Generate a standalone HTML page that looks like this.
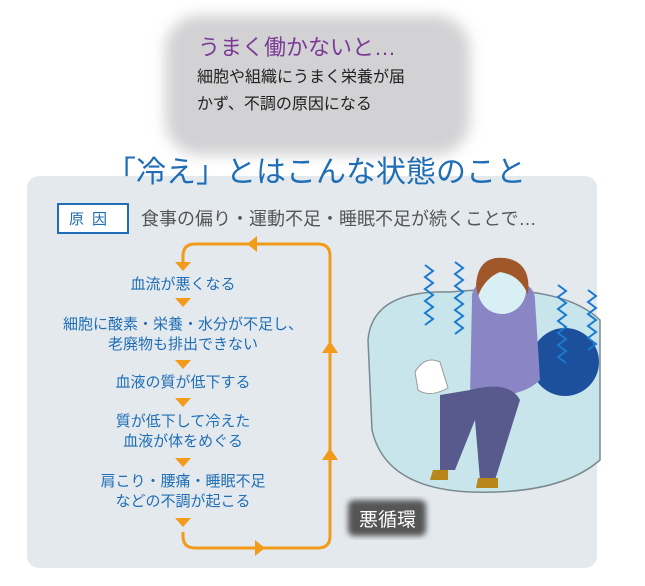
<!DOCTYPE html>
<html><head><meta charset="utf-8"><style>
body{margin:0;width:645px;height:586px;background:#fff;position:relative;overflow:hidden;font-family:"Liberation Sans","Noto Sans CJK JP",sans-serif}
.a{position:absolute;white-space:nowrap}
.t{color:#1f6eb5;font-size:15px;text-align:center;width:260px;left:53px;line-height:20px}
</style></head><body>
<svg class="a" style="left:0;top:0" width="645" height="586">
<defs><filter id="b"><feGaussianBlur stdDeviation="7"/></filter><filter id="b2"><feGaussianBlur stdDeviation="3"/></filter></defs>
<rect x="165" y="15" width="305" height="140" rx="35" fill="#d2d2d4" filter="url(#b)"/>
<rect x="27" y="176" width="570" height="392" rx="12" fill="#e4e9ee"/>
<rect x="58" y="204" width="70" height="29" fill="#fff" stroke="#1f6eb5" stroke-width="2"/>
<g fill="none" stroke="#f29a1a" stroke-width="3">
<path d="M183 262 V256 Q183 244 195 244 H318 Q330 244 330 256 V536 Q330 548 318 548 H195 Q183 548 183 536 V532"/>
</g>
<g fill="#f29a1a">
<path d="M175 262h16l-8 9z"/><path d="M175 298h16l-8 9z"/><path d="M175 360h16l-8 9z"/><path d="M175 398h16l-8 9z"/><path d="M175 458h16l-8 9z"/><path d="M175 518h16l-8 9z"/>
<path d="M247 244l10-8v16z"/><path d="M265 548l-10-8v16z"/>
<path d="M322 353l8-12 8 12z"/><path d="M322 460l8-12 8 12z"/>
</g>
<rect x="348" y="500" width="78" height="36" rx="6" fill="#555" filter="url(#b2)"/>
<path d="M368 340 Q372 290 450 292 Q560 282 600 320 L600 460 Q560 495 470 492 Q385 488 372 430 Z" fill="#c7e5ea" stroke="#7a8a90" stroke-width="1.5"/>
<circle cx="565" cy="362" r="34" fill="#1c4f9c"/>
<path d="M472 300 Q470 280 500 278 Q535 280 535 300 L540 380 Q520 400 470 395 Z" fill="#8a86c6"/>
<path d="M440 395 L470 390 Q510 380 520 400 L495 480 L480 480 L475 420 L455 470 L440 470 Z" fill="#585a8e"/>
<path d="M433 470 l15 0 l0 10 l-18 0 z M478 478 l20 0 l0 10 l-22 0z" fill="#b8861a"/>
<circle cx="502" cy="290" r="24" fill="#d8f0f4"/>
<path d="M476 285 Q478 255 505 258 Q532 262 528 295 Q520 275 500 272 Q485 278 478 296 Z" fill="#a0582a"/>
<path d="M415 372 Q425 355 440 362 L448 388 Q430 398 418 390 Z" fill="#fff" stroke="#999"/>
<g fill="none" stroke="#1a7ad0" stroke-width="2">
<path d="M425 265 l8 6 -8 6 8 6 -8 6 8 6 -8 6 8 6 -8 6 8 6 -8 6"/>
<path d="M455 262 l8 6 -8 6 8 6 -8 6 8 6 -8 6 8 6 -8 6 8 6 -8 6 8 6 -8 6"/>
<path d="M558 285 l8 6 -8 6 8 6 -8 6 8 6 -8 6 8 6 -8 6 8 6 -8 6 8 6 -8 6 8 6"/>
<path d="M588 290 l8 6 -8 6 8 6 -8 6 8 6 -8 6 8 6 -8 6 8 6 -8 6"/>
</g>
</svg>
<div class="a" style="left:198px;top:30px;font-size:22px;color:#7b3a96">うまく働かないと…</div>
<div class="a" style="left:197px;top:64px;font-size:16px;line-height:27px;color:#222">細胞や組織にうまく栄養が届<br>かず、不調の原因になる</div>
<div class="a" style="left:106px;top:147px;font-size:30px;color:#1f6eb5">「冷え」とはこんな状態のこと</div>
<div class="a" style="left:69px;top:208px;font-size:15px;color:#1f6eb5;letter-spacing:8px">原因</div>
<div class="a" style="left:141px;top:205px;font-size:18px;color:#555">食事の偏り・運動不足・睡眠不足が続くことで…</div>
<div class="a t" style="top:275px">血流が悪くなる</div>
<div class="a t" style="top:315px">細胞に酸素・栄養・水分が不足し、<br>老廃物も排出できない</div>
<div class="a t" style="top:373px">血液の質が低下する</div>
<div class="a t" style="top:412px">質が低下して冷えた<br>血液が体をめぐる</div>
<div class="a t" style="top:472px">肩こり・腰痛・睡眠不足<br>などの不調が起こる</div>
<div class="a" style="left:359px;top:505px;font-size:19px;color:#fff">悪循環</div>
</body></html>
